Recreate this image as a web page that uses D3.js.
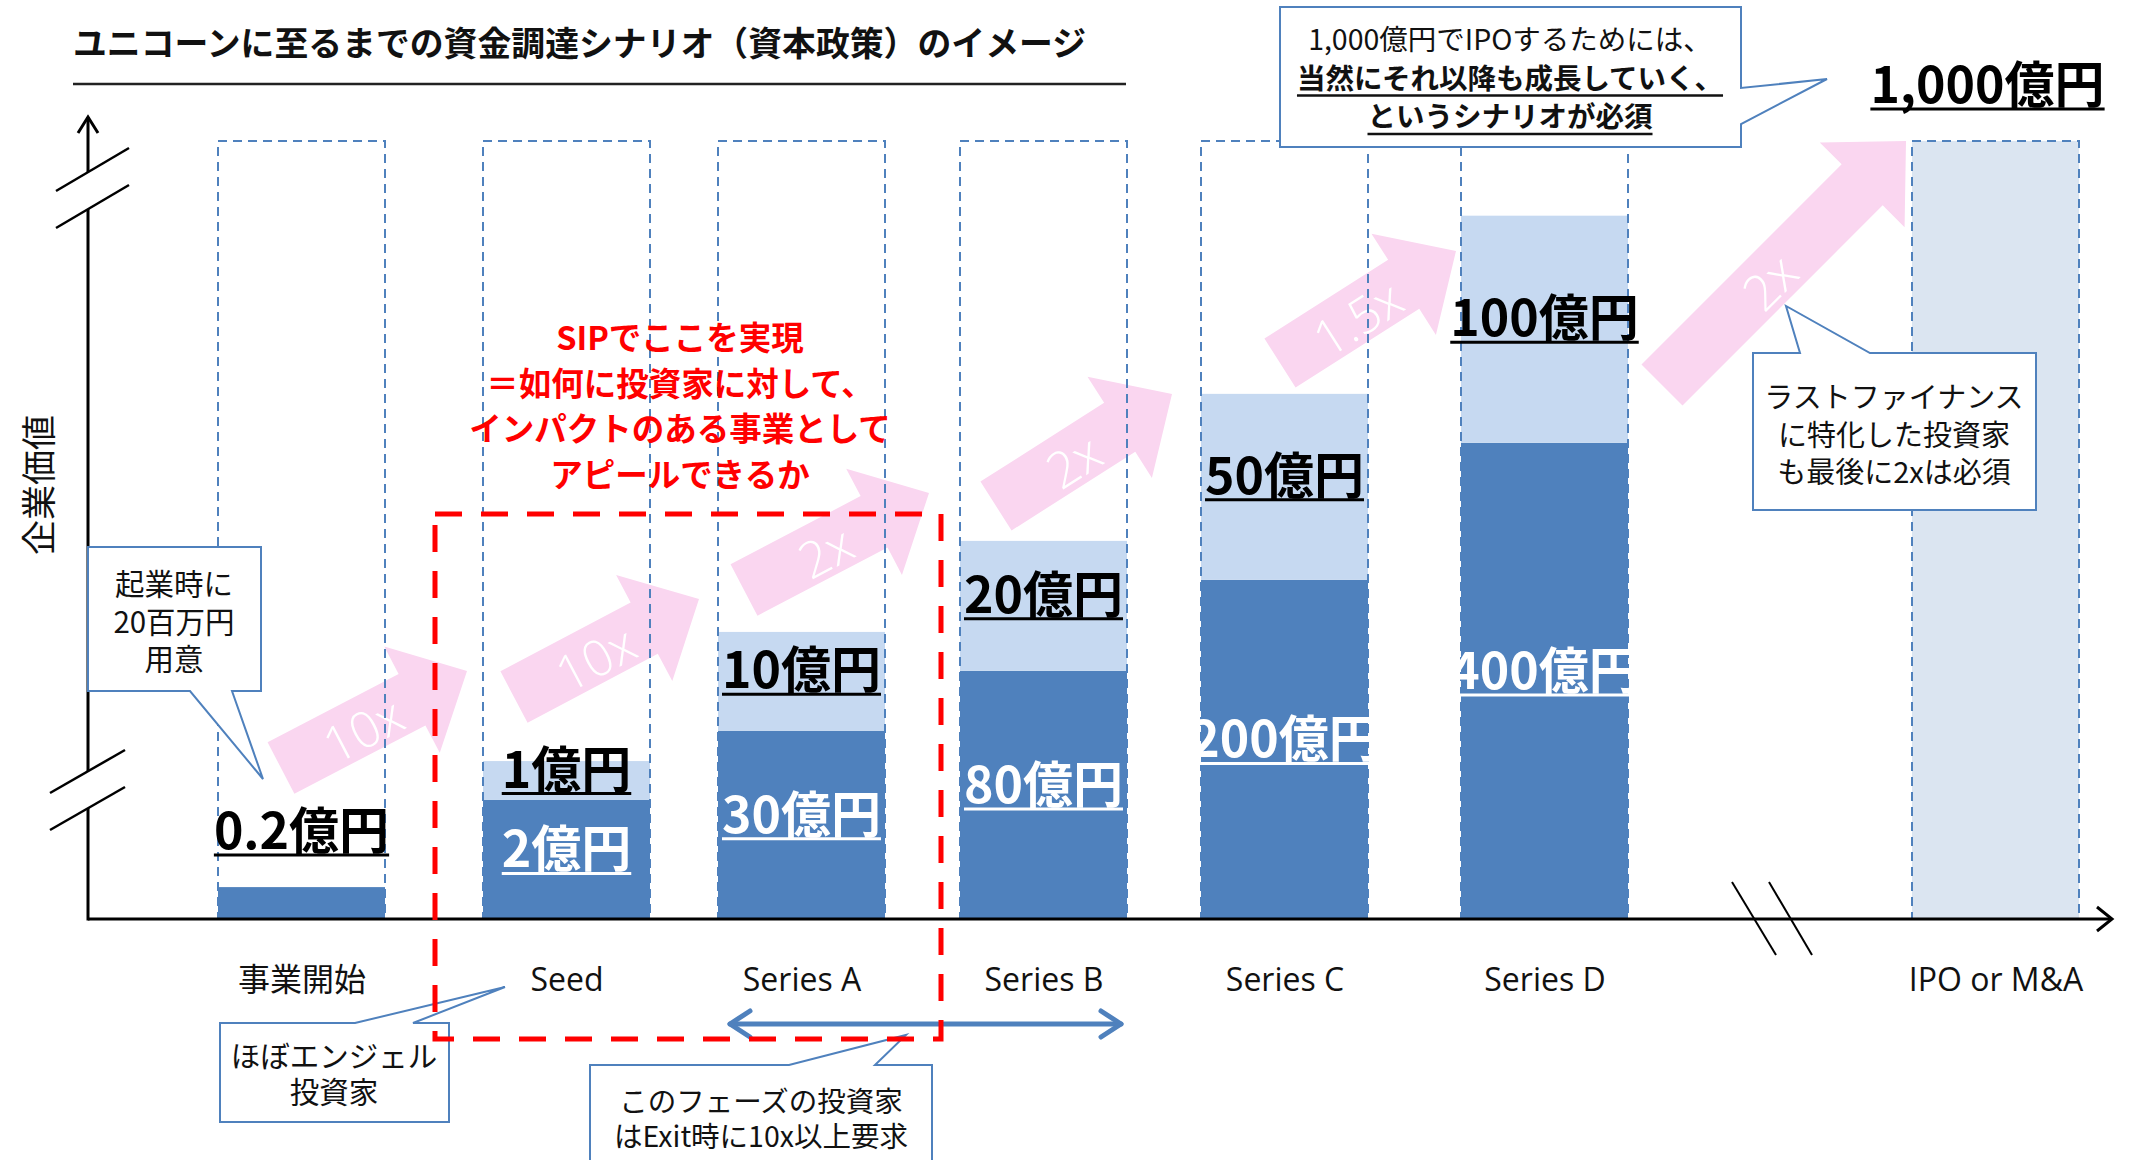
<!DOCTYPE html>
<html><head><meta charset="utf-8">
<script src="https://cdn.jsdelivr.net/npm/d3@7"></script>
<style>
html,body{margin:0;padding:0;background:#fff;}
svg{display:block;}
</style></head><body>
<svg id="chart" width="2131" height="1160"></svg>
<script>
// ---------------- data ----------------
const stages = ["事業開始","Seed","Series A","Series B","Series C","Series D","IPO or M&A"];
const darkValues  = [0.2, 2, 30, 80, 200, 400, null];      // 億円 (existing value, dark segment)
const lightValues = [null, 1, 10, 20, 50, 100, 1000];      // 億円 (new money / exit value)
const darkLevels  = [4.1, 15.3, 24.2, 31.9, 43.6, 61.2, 0];   // schematic heights (% of axis)
const topLevels   = [4.1, 20.3, 36.9, 48.6, 67.5, 90.4, 100];
const multiples   = ["10x","10x","2x","2x","1.5x","2x"];
const titleText   = "ユニコーンに至るまでの資金調達シナリオ（資本政策）のイメージ";
const yAxisLabel  = "企業価値";
const headline    = ["SIPでここを実現","＝如何に投資家に対して、","インパクトのある事業として","アピールできるか"];
const noteIPO     = ["1,000億円でIPOするためには、","当然にそれ以降も成長していく、","というシナリオが必須"];
const noteStart   = ["起業時に","20百万円","用意"];
const noteAngel   = ["ほぼエンジェル","投資家"];
const notePhase   = ["このフェーズの投資家","はExit時に10x以上要求"];
const noteLast    = ["ラストファイナンス","に特化した投資家","も最後に2xは必須"];

// ---------------- layout ----------------
const svg = d3.select("#chart");
const JP = '"Noto Sans CJK JP","Noto Sans",sans-serif';
const LAT = '"Open Sans","Noto Sans CJK JP",sans-serif';
const BLUE = "#4f81bd", LIGHT = "#c6d9f1", TARGET = "#dbe5f1", PINK = "#fad6f0";
const x = d3.scaleOrdinal().domain(stages).range([218,483,718,960,1201,1461,1912]);
const bw = 167;
const xc = d3.scaleOrdinal().domain(stages).range(stages.map(s => x(s) + bw/2));
const y = d3.scaleLinear().domain([0,100]).range([919,141]);
const fmt = v => d3.format(",")(v) + "億円";

// title
svg.append("text").attr("x",73).attr("y",56).attr("font-family",JP).attr("font-weight",700)
  .attr("font-size",34).attr("fill","#111").attr("textLength",1013).attr("lengthAdjust","spacingAndGlyphs").text(titleText);
svg.append("line").attr("x1",73).attr("x2",1126).attr("y1",84).attr("y2",84)
  .attr("stroke","#222").attr("stroke-width",2.5);

// y axis label
svg.append("text").attr("transform","translate(52,485) rotate(-90)").attr("text-anchor","middle")
  .attr("font-family",JP).attr("font-size",35).attr("fill","#111").text(yAxisLabel);

// bars
const data = stages.map((s,i)=>({s,i,dark:darkValues[i],light:lightValues[i],dl:darkLevels[i],tl:topLevels[i]}));
const last = stages.length-1;
const gBars = svg.append("g");
gBars.selectAll("rect.dark").data(data.filter(d=>d.dark!=null)).join("rect")
  .attr("x",d=>x(d.s)).attr("width",bw).attr("y",d=>y(d.dl)).attr("height",d=>y(0)-y(d.dl)).attr("fill",BLUE);
gBars.selectAll("rect.light").data(data.filter(d=>d.light!=null)).join("rect")
  .attr("x",d=>x(d.s)).attr("width",bw).attr("y",d=>y(d.tl)).attr("height",d=>y(d.dl)-y(d.tl))
  .attr("fill",d=>d.i===last?TARGET:LIGHT);

// pink growth arrows (annotation layer)
const arrowGeom = [[[281,768],[467,671]],[[514,697],[699,599]],[[744,590],[929,493]],
                   [[996,506],[1172,394]],[[1280,363],[1456,251]],[[1662,385],[1906,141]]];
function arrowPts(t,p,w=58,hw=120,hl=62){
  const dx=p[0]-t[0], dy=p[1]-t[1], L=Math.hypot(dx,dy), ux=dx/L, uy=dy/L, nx=-uy, ny=ux;
  return [[0,-w/2],[L-hl,-w/2],[L-hl,-hw/2],[L,0],[L-hl,hw/2],[L-hl,w/2],[0,w/2]]
    .map(([a,b])=>[t[0]+a*ux+b*nx, t[1]+a*uy+b*ny]);
}
const gArr = svg.append("g");
multiples.forEach((m,i)=>{
  const [t,p]=arrowGeom[i];
  gArr.append("polygon").attr("points",arrowPts(t,p).map(q=>q.join(",")).join(" ")).attr("fill",PINK);
  const ang = Math.atan2(p[1]-t[1],p[0]-t[0])*180/Math.PI;
  const cx = t[0]+0.44*(p[0]-t[0]), cy = t[1]+0.44*(p[1]-t[1])+4;
  gArr.append("text").attr("transform",`translate(${cx},${cy}) rotate(${ang})`)
    .attr("text-anchor","middle").attr("dominant-baseline","central")
    .attr("font-family",LAT).attr("font-weight",300).attr("font-size",50).attr("fill","#fff").text(m);
});

// dashed outlines
svg.append("g").selectAll("rect").data(data).join("rect")
  .attr("x",d=>x(d.s)).attr("width",bw).attr("y",y(100)).attr("height",y(0)-y(100))
  .attr("fill","none").attr("stroke",BLUE).attr("stroke-width",2).attr("stroke-dasharray","9,6");

// axes
const ax = svg.append("g").attr("stroke","#000").attr("stroke-width",3).attr("fill","none");
ax.append("line").attr("x1",88).attr("x2",88).attr("y1",y(0)+1.5).attr("y2",808);
ax.append("line").attr("x1",88).attr("x2",88).attr("y1",771).attr("y2",209);
ax.append("line").attr("x1",88).attr("x2",88).attr("y1",172).attr("y2",117);
ax.append("polyline").attr("points","78,133 88,117 98,133");
ax.append("line").attr("x1",50).attr("y1",793).attr("x2",125).attr("y2",750).attr("stroke-width",2.5);
ax.append("line").attr("x1",50).attr("y1",830).attr("x2",125).attr("y2",787).attr("stroke-width",2.5);
ax.append("line").attr("x1",56).attr("y1",191).attr("x2",129).attr("y2",148).attr("stroke-width",2.5);
ax.append("line").attr("x1",56).attr("y1",228).attr("x2",129).attr("y2",185).attr("stroke-width",2.5);
ax.append("line").attr("x1",88).attr("x2",2111).attr("y1",y(0)).attr("y2",y(0));
ax.append("polyline").attr("points","2097,907 2112,919 2097,931");
ax.append("line").attr("x1",1732).attr("y1",882).attr("x2",1776).attr("y2",955).attr("stroke-width",2);
ax.append("line").attr("x1",1769).attr("y1",882).attr("x2",1812).attr("y2",955).attr("stroke-width",2);

const xAxis = svg.append("g").attr("transform",`translate(0,${y(0)})`)
  .call(d3.axisBottom(xc).tickSize(0).tickPadding(49));
xAxis.select(".domain").remove();
xAxis.selectAll("text").attr("font-family",LAT).attr("font-size",32).attr("fill","#111");

// value labels
const gLab = svg.append("g").attr("font-family",JP).attr("font-weight",700).attr("font-size",50).attr("text-anchor","middle");
function label(txt, cx, cy, color){
  const t = gLab.append("text").attr("x",cx).attr("y",cy+18).attr("fill",color).text(txt);
  const w = t.node().getComputedTextLength();
  gLab.append("line").attr("x1",cx-w/2).attr("x2",cx+w/2).attr("y1",cy+24).attr("y2",cy+24)
    .attr("stroke",color).attr("stroke-width",3);
}
data.forEach(d=>{
  const c = xc(d.s);
  if(d.dark!=null){
    const h = y(0)-y(d.dl);
    if(h<50) label(fmt(d.dark), c, y(d.dl)-56, "#000");
    else label(fmt(d.dark), c, (y(0)+y(d.dl))/2-10, "#fff");
  }
  if(d.light!=null){
    if(d.i===last) label(fmt(d.light), c-8, y(d.tl)-56, "#000");
    else label(fmt(d.light), c, (y(d.dl)+y(d.tl))/2-11, "#000");
  }
});

// red headline
svg.append("g").selectAll("text").data(headline).join("text")
  .attr("x",680).attr("y",(d,i)=>350+i*45.5).attr("text-anchor","middle")
  .attr("font-family",JP).attr("font-weight",700).attr("font-size",32.5).attr("fill","#ff0000").text(d=>d);

// callouts
function callout(path, lines, cx, y0, dy, size, styles){
  const g = svg.append("g");
  g.append("path").attr("d",path).attr("fill","#fff").attr("stroke",BLUE).attr("stroke-width",2);
  lines.forEach((ln,i)=>{
    const bold = styles && styles[i];
    const t = g.append("text").attr("x",cx).attr("y",y0+i*dy).attr("text-anchor","middle")
      .attr("font-family",JP).attr("font-size",size).attr("font-weight",bold?700:400).attr("fill","#111").text(ln);
    if(bold){
      const w=t.node().getComputedTextLength();
      g.append("line").attr("x1",cx-w/2).attr("x2",cx+w/2).attr("y1",y0+i*dy+7).attr("y2",y0+i*dy+7)
        .attr("stroke","#111").attr("stroke-width",2.5);
    }
  });
}
callout("M1280,7 H1741 V88 L1827,79 L1741,124 V147 H1280 Z", noteIPO, 1510, 50, 38.5, 28.5, [false,true,true]);
callout("M88,547 H261 V691 H232 L263,779 L190,691 H88 Z", noteStart, 174, 595, 37.5, 29.5);
callout("M220,1023 H355 L505,987 L413,1023 H449 V1122 H220 Z", noteAngel, 334, 1067, 36, 29.5);
callout("M590,1065 H789 L906,1035 L875,1065 H932 V1175 H590 Z", notePhase, 761, 1112, 35, 28.5);
callout("M1753,353 H1800 L1786,306 L1870,353 H2036 V510 H1753 Z", noteLast, 1894, 408, 37.5, 29);

// double arrow (investor horizon)
const da = svg.append("g").attr("stroke",BLUE).attr("stroke-width",5).attr("fill","none").attr("stroke-linecap","round").attr("stroke-linejoin","round");
da.append("line").attr("x1",x("Series A")+12).attr("x2",x("Series B")+bw-6).attr("y1",1024).attr("y2",1024);
da.append("polyline").attr("points",`${x("Series A")+32},1011 ${x("Series A")+12},1024 ${x("Series A")+32},1037`);
da.append("polyline").attr("points",`${x("Series B")+bw-26},1011 ${x("Series B")+bw-6},1024 ${x("Series B")+bw-26},1037`);

// red dashed focus rectangle
svg.append("rect").attr("x",435).attr("y",514).attr("width",506).attr("height",525)
  .attr("fill","none").attr("stroke","#ff0000").attr("stroke-width",5).attr("stroke-dasharray","27,19");
</script>
</body></html>
